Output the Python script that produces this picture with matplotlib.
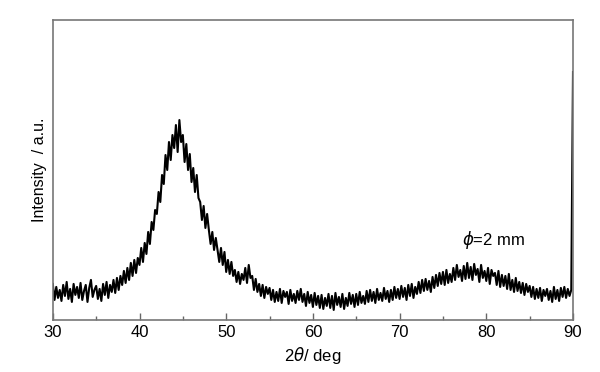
import numpy as np
import matplotlib
matplotlib.use('Agg')
import matplotlib.pyplot as plt

plt.rcParams['font.family'] = ['Liberation Sans', 'DejaVu Sans']
plt.rcParams['mathtext.fontset'] = 'dejavusans'

# intensity, 5 points per degree (30.0 ... 89.8), then 90.0
intensity = [
    36, 20, 33, 22, 30,   # 30
    19, 35, 24, 38, 21,   # 31
    31, 18, 36, 25, 33,   # 32
    22, 37, 20, 29, 35,   # 33
    18, 32, 40, 23, 30,   # 34
    34, 21, 31, 19, 36,   # 35
    25, 38, 22, 35, 28,   # 36
    40, 27, 42, 30, 44,   # 37
    35, 49, 37, 52, 40,   # 38
    57, 44, 60, 47, 62,   # 39
    55, 72, 58, 77, 66,   # 40
    88, 76, 98, 90, 110,  # 41
    106, 128, 118, 145, 136,  # 42
    165, 150, 178, 160, 185,  # 43
    172, 195, 168, 200, 178,  # 44
    185, 158, 176, 150, 166,  # 45
    138, 152, 128, 145, 122,  # 46
    118, 100, 114, 92, 106,   # 47
    90, 76, 88, 70, 82,   # 48
    70, 58, 72, 55, 68,   # 49
    48, 60, 46, 58, 44,   # 50
    50, 38, 48, 36, 46,   # 51
    40, 52, 37, 55, 42,   # 52
    44, 30, 41, 28, 36,   # 53
    24, 35, 22, 33, 26,   # 54
    32, 20, 30, 18, 28,   # 55
    19, 31, 17, 29, 23,   # 56
    28, 16, 30, 19, 26,   # 57
    17, 29, 20, 31, 18,   # 58
    26, 14, 28, 17, 25,   # 59
    13, 27, 15, 24, 12,   # 60
    25, 11, 22, 14, 26,   # 61
    12, 24, 10, 27, 15,   # 62
    23, 13, 26, 11, 22,   # 63
    14, 27, 16, 25, 13,   # 64
    26, 15, 28, 17, 24,   # 65
    16, 29, 18, 30, 19,   # 66
    28, 17, 31, 20, 27,   # 67
    19, 32, 21, 29, 18,   # 68
    30, 20, 33, 22, 31,   # 69
    21, 34, 23, 32, 20,   # 70
    35, 24, 36, 22, 33,   # 71
    26, 38, 27, 40, 29,   # 72
    41, 30, 39, 28, 43,   # 73
    32, 45, 34, 47, 36,   # 74
    48, 35, 50, 37, 46,   # 75
    38, 52, 40, 55, 43,   # 76
    50, 39, 54, 41, 57,   # 77
    42, 53, 40, 56, 45,   # 78
    51, 38, 55, 42, 49,   # 79
    39, 52, 36, 50, 44,   # 80
    47, 35, 49, 33, 45,   # 81
    34, 44, 31, 46, 30,   # 82
    40, 28, 42, 29, 38,   # 83
    27, 37, 25, 36, 28,   # 84
    34, 23, 33, 21, 31,   # 85
    22, 32, 19, 30, 24,   # 86
    31, 20, 29, 18, 33,   # 87
    21, 30, 19, 32, 23,   # 88
    33, 22, 31, 24, 30,   # 89
    248,                  # 90
]
two_theta = np.linspace(30, 90, len(intensity))

label_text = r'$\phi$=2 mm'
label_pos = (77.2, 80)


def main():
    fig = plt.figure(figsize=(6.0, 3.72), dpi=100)
    ax = fig.add_axes([0.088, 0.140, 0.867, 0.806])

    ax.plot(two_theta, intensity, color='black', lw=1.5)

    ax.set_xlim(30, 90)
    ax.set_ylim(0, 300)
    ax.set_xticks(np.arange(30, 91, 10))
    ax.set_xticks(np.arange(35, 90, 10), minor=True)
    ax.set_yticks([])
    ax.tick_params(axis='x', which='major', direction='in', length=5,
                   width=1, color='#666666', labelsize=12, pad=4)
    ax.tick_params(axis='x', which='minor', direction='in', length=3,
                   width=1, color='#666666')
    for sp in ax.spines.values():
        sp.set_color('#777777')
        sp.set_linewidth(1.2)

    ax.set_xlabel(r'2$\theta$/ deg', fontsize=12, labelpad=3)
    ax.set_ylabel('Intensity  / a.u.', fontsize=11.5, labelpad=4)
    ax.text(label_pos[0], label_pos[1], label_text, fontsize=12,
            ha='left', va='center')

    fig.savefig('out.png', dpi=100)


if __name__ == '__main__':
    main()
